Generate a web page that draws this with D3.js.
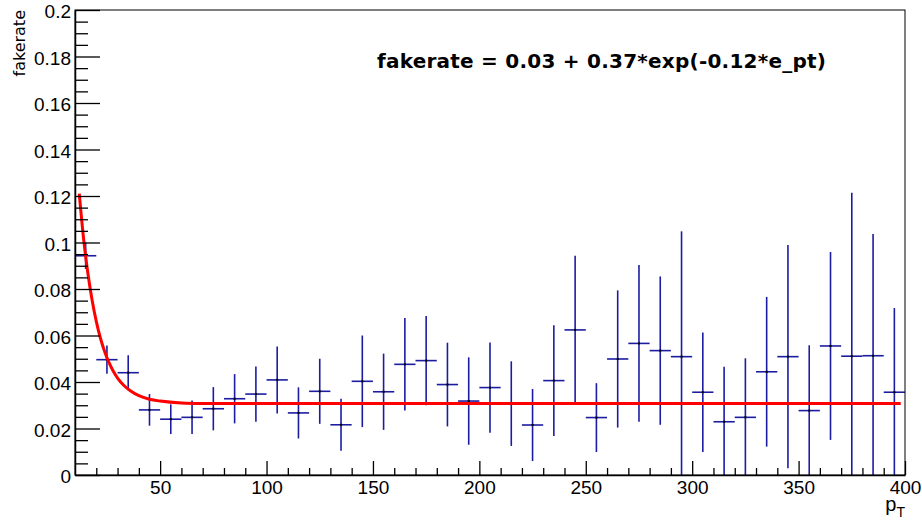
<!DOCTYPE html>
<html>
<head>
<meta charset="utf-8">
<script src="https://cdn.jsdelivr.net/npm/d3@7"></script>
<style>
  html, body { margin: 0; padding: 0; background: #fff; }
  svg { display: block; }
</style>
</head>
<body>
<svg id="chart" width="922" height="523"></svg>
<script>
// ---- data ----
const binCenters = [15,25,35,45,55,65,75,85,95,105,115,125,135,145,155,165,175,185,195,205,215,225,235,245,255,265,275,285,295,305,315,325,335,345,355,365,375,385,395];
const binWidth = 10;
const fakeRate = [0.0943,0.0496,0.0440,0.0280,0.0240,0.0248,0.0285,0.0328,0.0348,0.0409,0.0267,0.0360,0.0216,0.0403,0.0358,0.0476,0.0492,0.0389,0.0318,0.0376,0.0307,0.0215,0.0406,0.0624,0.0247,0.0499,0.0566,0.0535,0.0509,0.0356,0.0229,0.0248,0.0444,0.0509,0.0277,0.0555,0.0511,0.0513,0.0356];
const fakeRateErr = [0.0057,0.0061,0.0075,0.0068,0.0064,0.0072,0.0093,0.0106,0.0119,0.0144,0.0110,0.0140,0.0112,0.0197,0.0164,0.0199,0.0192,0.0180,0.0188,0.0194,0.0182,0.0155,0.0238,0.0319,0.0148,0.0295,0.0337,0.0319,0.0539,0.0257,0.0237,0.0254,0.0322,0.0480,0.0281,0.0404,0.0703,0.0524,0.0362];
// fit curve
const fitX = [12,14,16,18,20,22,24,26,28,30,33,36,40,45,50,60,70,100,200,300,398];
const fitY = [0.1210,0.1019,0.0871,0.0754,0.0661,0.0587,0.0529,0.0483,0.0446,0.0417,0.0385,0.0362,0.0341,0.0326,0.0318,0.0310,0.0308,0.0307,0.0307,0.0307,0.0307];
const xMajorTicks = [50,100,150,200,250,300,350,400];
const xMinorTicks = [20,30,40,60,70,80,90,110,120,130,140,160,170,180,190,210,220,230,240,260,270,280,290,310,320,330,340,360,370,380,390];
const yMajorTicks = [0,0.02,0.04,0.06,0.08,0.1,0.12,0.14,0.16,0.18,0.2];
const yTickLabels = ["0","0.02","0.04","0.06","0.08","0.1","0.12","0.14","0.16","0.18","0.2"];
const yMinorTicks = [0.005,0.01,0.015,0.025,0.03,0.035,0.045,0.05,0.055,0.065,0.07,0.075,0.085,0.09,0.095,0.105,0.11,0.115,0.125,0.13,0.135,0.145,0.15,0.155,0.165,0.17,0.175,0.185,0.19,0.195];
const formulaText = "fakerate = 0.03 + 0.37*exp(-0.12*e_pt)";
const yTitle = "fakerate";

// ---- layout ----
const svg = d3.select("#chart");
const L = 75, R = 905, T = 10, B = 475;
const x = d3.scaleLinear().domain([10, 400]).range([L, R]);
const y = d3.scaleLinear().domain([0, 0.2]).range([B, T]);
const font = "'Liberation Sans', Arial, sans-serif";

svg.append("rect").attr("width", 922).attr("height", 523).attr("fill", "#fff");

// clip
svg.append("clipPath").attr("id", "clip")
  .append("rect").attr("x", L).attr("y", T).attr("width", R - L).attr("height", B - T);

const plot = svg.append("g").attr("clip-path", "url(#clip)");

// error bars
const blue = "#1c1ca3";
const pts = binCenters.map((c, i) => ({c, v: fakeRate[i], e: fakeRateErr[i]}));
plot.selectAll("line.hbar").data(pts).join("line")
  .attr("class", "hbar")
  .attr("x1", d => x(d.c - binWidth / 2)).attr("x2", d => x(d.c + binWidth / 2))
  .attr("y1", d => y(d.v)).attr("y2", d => y(d.v))
  .attr("stroke", blue).attr("stroke-width", 1.6);
plot.selectAll("line.vbar").data(pts).join("line")
  .attr("class", "vbar")
  .attr("x1", d => x(d.c)).attr("x2", d => x(d.c))
  .attr("y1", d => y(d.v - d.e)).attr("y2", d => y(d.v + d.e))
  .attr("stroke", blue).attr("stroke-width", 1.6);
plot.selectAll("rect.mk").data(pts).join("rect")
  .attr("class", "mk")
  .attr("x", d => x(d.c) - 1).attr("y", d => y(d.v) - 1)
  .attr("width", 2).attr("height", 2).attr("fill", "#000");

// fit line
const fitPts = fitX.map((v, i) => [v, fitY[i]]);
plot.append("path")
  .datum(fitPts)
  .attr("fill", "none").attr("stroke", "#ff0000").attr("stroke-width", 3)
  .attr("stroke-linejoin", "round")
  .attr("d", d3.line().x(d => x(d[0])).y(d => y(d[1])).curve(d3.curveMonotoneX));

// frame
svg.append("rect").attr("x", L).attr("y", T).attr("width", R - L).attr("height", B - T)
  .attr("fill", "none").attr("stroke", "#000").attr("stroke-width", 1);

// axes
const yAxis = d3.axisLeft(y).tickValues(yMajorTicks)
  .tickFormat((d, i) => yTickLabels[i]).tickSizeInner(-25).tickSizeOuter(0).tickPadding(4);
const gy = svg.append("g").attr("transform", `translate(${L},0)`).call(yAxis);
const gyMinor = svg.append("g").attr("transform", `translate(${L},0)`)
  .call(d3.axisLeft(y).tickValues(yMinorTicks).tickFormat("").tickSizeInner(-13).tickSizeOuter(0));
gyMinor.select(".domain").remove();

const xAxis = d3.axisBottom(x).tickValues(xMajorTicks).tickFormat(d3.format("d"))
  .tickSizeInner(-14).tickSizeOuter(0).tickPadding(6);
const gx = svg.append("g").attr("transform", `translate(0,${B})`).call(xAxis);
const gxMinor = svg.append("g").attr("transform", `translate(0,${B})`)
  .call(d3.axisBottom(x).tickValues(xMinorTicks).tickFormat("").tickSizeInner(-7).tickSizeOuter(0));
gxMinor.select(".domain").remove();

[gy, gx, gyMinor, gxMinor].forEach(g => {
  g.selectAll(".domain").attr("stroke", "#000").attr("stroke-width", 1.5);
  g.selectAll(".tick line").attr("stroke", "#000").attr("stroke-width", 1.3);
});
gy.selectAll(".tick text").attr("font-family", font).attr("font-size", 19).attr("fill", "#000").attr("dy", "0.4em");
gx.selectAll(".tick text").attr("font-family", font).attr("font-size", 19).attr("fill", "#000");

// titles
svg.append("text")
  .attr("transform", `translate(25,${T}) rotate(-90)`)
  .attr("text-anchor", "end")
  .attr("font-family", "'DejaVu Sans', Verdana, sans-serif").attr("font-size", 16).attr("fill", "#000")
  .text(yTitle);

const xt = svg.append("text")
  .attr("x", R).attr("y", 511).attr("text-anchor", "end")
  .attr("font-family", font).attr("font-size", 20).attr("fill", "#000");
xt.append("tspan").text("p");
xt.append("tspan").attr("dy", 6).attr("font-size", 14).text("T");

svg.append("text")
  .attr("x", 377).attr("y", 68)
  .attr("font-family", "'DejaVu Sans', Verdana, sans-serif").attr("font-weight", "bold")
  .attr("font-size", 20).attr("fill", "#000")
  .attr("textLength", 449).attr("lengthAdjust", "spacing")
  .text(formulaText);
</script>
</body>
</html>
